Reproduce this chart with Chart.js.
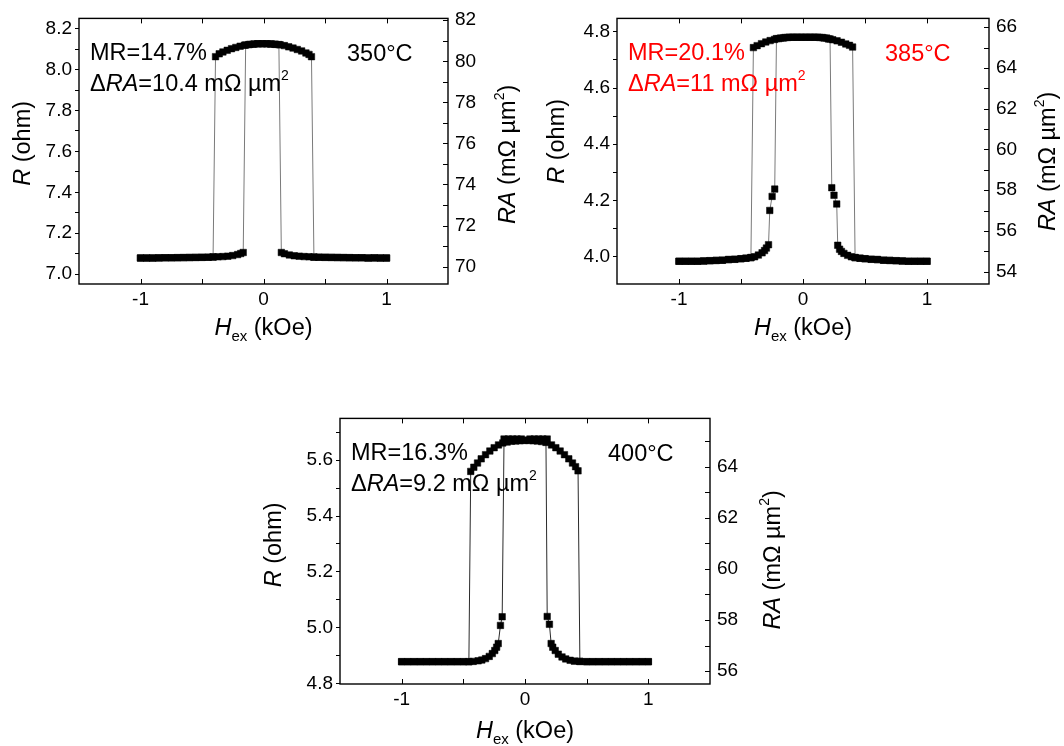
<!DOCTYPE html>
<html><head><meta charset="utf-8">
<script src="https://cdn.jsdelivr.net/npm/chart.js@4/dist/chart.umd.min.js"></script>
<style>
html,body{margin:0;padding:0;background:#fff;width:1064px;height:746px;overflow:hidden;}
canvas{position:absolute;}
</style></head><body>
<canvas id="c1" width="530" height="346" style="left:0px;top:0px"></canvas>
<canvas id="c2" width="534" height="346" style="left:530px;top:0px"></canvas>
<canvas id="c3" width="550" height="346" style="left:250px;top:400px"></canvas>
<script>
// ---------- DATA ----------
// 350 C : field sweep +1 -> -1 (down) and -1 -> +1 (up), H in kOe, R in ohm
const h350Down = [1.00,0.95,0.90,0.85,0.80,0.75,0.70,0.65,0.60,0.55,0.50,0.45,0.41,0.37,0.33,0.29,0.25,0.21,0.17,0.145,
  0.125,0.09,0.055,0.02,-0.015,-0.05,-0.085,-0.12,-0.155,-0.19,-0.225,-0.26,-0.295,-0.33,-0.36,-0.39,
  -0.41,-0.45,-0.50,-0.55,-0.60,-0.65,-0.70,-0.75,-0.80,-0.85,-0.90,-0.95,-1.00];
const r350Down = [7.079,7.079,7.080,7.079,7.080,7.080,7.081,7.081,7.082,7.082,7.083,7.083,7.084,7.085,7.086,7.088,7.090,7.094,7.100,7.106,
  8.122,8.124,8.125,8.126,8.126,8.126,8.124,8.122,8.119,8.114,8.108,8.102,8.094,8.086,8.077,8.063,
  7.084,7.083,7.082,7.082,7.081,7.081,7.080,7.080,7.080,7.079,7.079,7.079,7.079];
const h350Up = [-1.00,-0.95,-0.90,-0.85,-0.80,-0.75,-0.70,-0.65,-0.60,-0.55,-0.50,-0.45,-0.41,-0.37,-0.33,-0.29,-0.25,-0.21,-0.185,-0.165,
  -0.145,-0.11,-0.075,-0.04,-0.005,0.03,0.065,0.10,0.135,0.17,0.205,0.24,0.275,0.31,0.345,0.37,0.39,
  0.41,0.45,0.50,0.55,0.60,0.65,0.70,0.75,0.80,0.85,0.90,0.95,1.00];
const r350Up = [7.079,7.079,7.079,7.080,7.080,7.080,7.081,7.081,7.082,7.082,7.083,7.083,7.084,7.085,7.086,7.088,7.091,7.096,7.101,7.106,
  8.120,8.123,8.125,8.126,8.126,8.126,8.125,8.123,8.121,8.117,8.111,8.105,8.098,8.091,8.081,8.074,8.063,
  7.083,7.083,7.082,7.082,7.081,7.081,7.080,7.080,7.080,7.079,7.079,7.079,7.079];

// 385 C
const h385Down = [1.00,0.95,0.90,0.85,0.80,0.75,0.70,0.65,0.60,0.55,0.50,0.46,0.42,0.39,0.36,0.33,0.31,0.295,0.28,0.272,0.25,0.232,
  0.218,0.19,0.155,0.12,0.085,0.05,0.015,-0.02,-0.055,-0.09,-0.125,-0.16,-0.195,-0.23,-0.265,-0.30,-0.335,-0.37,-0.40,
  -0.42,-0.46,-0.50,-0.55,-0.60,-0.65,-0.70,-0.75,-0.80,-0.85,-0.90,-0.95,-1.00];
const r385Down = [3.983,3.983,3.983,3.983,3.984,3.985,3.986,3.987,3.989,3.990,3.992,3.994,3.996,3.999,4.004,4.011,4.018,4.026,4.040,4.187,4.218,4.245,
  4.775,4.778,4.780,4.781,4.781,4.781,4.781,4.781,4.781,4.781,4.780,4.778,4.776,4.773,4.769,4.764,4.758,4.751,4.744,
  3.996,3.994,3.992,3.990,3.989,3.987,3.986,3.985,3.984,3.983,3.983,3.983,3.983];
const h385Up = [-1.00,-0.95,-0.90,-0.85,-0.80,-0.75,-0.70,-0.65,-0.60,-0.55,-0.50,-0.46,-0.42,-0.39,-0.36,-0.33,-0.31,-0.295,-0.278,-0.268,-0.249,-0.228,
  -0.214,-0.18,-0.145,-0.11,-0.075,-0.04,-0.005,0.03,0.065,0.10,0.135,0.17,0.205,0.24,0.275,0.31,0.345,0.375,0.40,
  0.42,0.46,0.50,0.55,0.60,0.65,0.70,0.75,0.80,0.85,0.90,0.95,1.00];
const r385Up = [3.983,3.983,3.983,3.983,3.984,3.985,3.986,3.987,3.989,3.990,3.992,3.994,3.996,3.999,4.005,4.013,4.021,4.030,4.042,4.164,4.214,4.240,
  4.776,4.778,4.780,4.781,4.781,4.781,4.781,4.781,4.781,4.781,4.780,4.778,4.775,4.772,4.768,4.763,4.757,4.752,4.746,
  3.996,3.994,3.992,3.990,3.989,3.987,3.986,3.985,3.984,3.983,3.983,3.983,3.983];

// 400 C
const h400Down = [1.00,0.95,0.90,0.85,0.80,0.75,0.70,0.65,0.60,0.55,0.50,0.445,0.40,0.366,0.33,0.30,0.27,0.245,0.225,0.212,0.198,0.18,
  0.17,0.135,0.10,0.065,0.03,-0.005,-0.04,-0.075,-0.11,-0.145,-0.18,-0.215,-0.25,-0.285,-0.32,-0.355,-0.385,-0.415,-0.44,
  -0.455,-0.50,-0.55,-0.60,-0.65,-0.70,-0.75,-0.80,-0.85,-0.90,-0.95,-1.00];
const r400Down = [4.878,4.878,4.878,4.878,4.878,4.878,4.878,4.878,4.878,4.878,4.878,4.879,4.880,4.883,4.888,4.895,4.905,4.918,4.930,4.943,5.012,5.040,
  5.664,5.667,5.669,5.670,5.671,5.671,5.670,5.669,5.668,5.665,5.662,5.655,5.645,5.633,5.620,5.605,5.590,5.575,5.560,
  4.878,4.878,4.878,4.878,4.878,4.878,4.878,4.878,4.878,4.878,4.878,4.878];
const h400Up = [-1.00,-0.95,-0.90,-0.85,-0.80,-0.75,-0.70,-0.65,-0.60,-0.55,-0.50,-0.455,-0.42,-0.38,-0.35,-0.32,-0.29,-0.265,-0.245,-0.23,-0.217,-0.199,-0.185,
  -0.17,-0.135,-0.10,-0.065,-0.03,0.005,0.04,0.075,0.11,0.145,0.18,0.215,0.25,0.285,0.32,0.355,0.385,0.41,0.43,
  0.445,0.50,0.55,0.60,0.65,0.70,0.75,0.80,0.85,0.90,0.95,1.00];
const r400Up = [4.878,4.878,4.878,4.878,4.878,4.878,4.878,4.878,4.878,4.878,4.878,4.878,4.879,4.881,4.884,4.889,4.897,4.907,4.918,4.930,4.943,5.008,5.039,
  5.676,5.676,5.676,5.676,5.676,5.672,5.676,5.676,5.676,5.676,5.676,5.655,5.645,5.633,5.620,5.605,5.590,5.577,5.562,
  4.879,4.878,4.878,4.878,4.878,4.878,4.878,4.878,4.878,4.878,4.878,4.878];

// axis ranges
const hRange = [-1.5, 1.5];
const rRange350 = [6.952, 8.250], raRange350 = [69.15, 82.09];
const rRange385 = [3.902, 4.848], raRange385 = [53.40, 66.43];
const rRange400 = [4.798, 5.750], raRange400 = [55.50, 65.88];

// texts
const temps = ['350°C', '385°C', '400°C'];
const mrLabels = ['MR=14.7%', 'MR=20.1%', 'MR=16.3%'];
const draLabels = ['10.4', '11', '9.2'];
const xTitle = ['H', 'ex', ' (kOe)'];
const yTitle = ['R', ' (ohm)'];
const y2Title = ['RA', ' (mΩ µm', '2', ')'];

// ---------- RENDER ----------
const FONT = '"Liberation Sans", Arial, Helvetica, sans-serif';
Chart.defaults.font.family = FONT;
Chart.defaults.color = '#000';

function fontStr(s) { return (s.italic ? 'italic ' : '') + s.size + 'px ' + FONT; }
function richWidth(ctx, segs) { let w = 0; for (const s of segs) { ctx.font = fontStr(s); w += ctx.measureText(s.t).width; } return w; }
function drawRich(ctx, x, y, segs, center, color) {
  let cx = center ? x - richWidth(ctx, segs) / 2 : x;
  ctx.fillStyle = color; ctx.textAlign = 'left'; ctx.textBaseline = 'alphabetic';
  for (const s of segs) { ctx.font = fontStr(s); ctx.fillText(s.t, cx, y + (s.dy || 0)); cx += ctx.measureText(s.t).width; }
}
function drawRotated(ctx, cx, cy, segs, size) {
  ctx.save(); ctx.translate(cx, cy); ctx.rotate(-Math.PI / 2);
  drawRich(ctx, 0, size * 0.36, segs, true, '#000');
  ctx.restore();
}

const panels = [
  { id: 'c1', hD: h350Down, rD: r350Down, hU: h350Up, rU: r350Up, rr: rRange350, ra: raRange350,
    yW: 79, y2W: 82, xH: 62, line: '#7a7a7a', col: '#000000',
    lt: [57, 125], rt: [59, 136], xb: 51 },
  { id: 'c2', hD: h385Down, rD: r385Down, hU: h385Up, rU: r385Up, rr: rRange385, ra: raRange385,
    yW: 87, y2W: 75, xH: 62, line: '#7a7a7a', col: '#ff0000',
    lt: [61, 123], rt: [58, 143], xb: 51 },
  { id: 'c3', hD: h400Down, rD: r400Down, hU: h400Up, rU: r400Up, rr: rRange400, ra: raRange400,
    yW: 90, y2W: 90, xH: 62, line: '#2a2a2a', col: '#000000',
    lt: [67, 126.5], rt: [62, 141.5], xb: 54 }
];

function pts(h, r) { return h.map((v, i) => ({ x: v, y: r[i] })); }

function decoPlugin(p, i) {
  return {
    id: 'deco' + i,
    afterDraw(chart) {
      const ctx = chart.ctx, a = chart.chartArea;
      const xs = chart.scales.x, y2 = chart.scales.y2;
      ctx.save();
      ctx.strokeStyle = '#000'; ctx.lineWidth = 1;
      ctx.beginPath();
      for (const t of xs.ticks) {
        if (t.value <= xs.min + 1e-9 || t.value >= xs.max - 1e-9) continue;
        const px = Math.round(xs.getPixelForValue(t.value)) + 0.5;
        ctx.moveTo(px, a.bottom); ctx.lineTo(px, a.bottom - 5);
        ctx.moveTo(px, a.top); ctx.lineTo(px, a.top + 5);
      }
      for (const t of y2.ticks) {
        const py = Math.round(y2.getPixelForValue(t.value)) + 0.5;
        ctx.moveTo(a.right, py); ctx.lineTo(a.right - 5, py);
      }
      ctx.stroke();
      ctx.lineWidth = 1.4;
      ctx.strokeRect(a.left, a.top, a.right - a.left, a.bottom - a.top);

      // annotations
      const S = 23.5;
      drawRich(ctx, a.left + 11, a.top + 42, [{ t: mrLabels[i], size: S }], false, p.col);
      drawRich(ctx, a.left + 11, a.top + 73, [
        { t: 'Δ', size: S }, { t: 'RA', size: S, italic: true },
        { t: '=' + draLabels[i] + ' mΩ µm', size: S }, { t: '2', size: 14, dy: -11 }], false, p.col);
      drawRich(ctx, a.left + 268, a.top + 43, [{ t: temps[i], size: S }], false, p.col);

      // axis titles
      const T = 23.5;
      drawRich(ctx, (a.left + a.right) / 2, a.bottom + p.xb, [
        { t: xTitle[0], size: T, italic: true }, { t: xTitle[1], size: 15, dy: 6 }, { t: xTitle[2], size: T }], true, '#000');
      drawRotated(ctx, a.left - p.lt[0], a.top + p.lt[1], [
        { t: yTitle[0], size: T, italic: true }, { t: yTitle[1], size: T }], T);
      drawRotated(ctx, a.right + p.rt[0], a.top + p.rt[1], [
        { t: y2Title[0], size: T, italic: true }, { t: y2Title[1], size: T },
        { t: y2Title[2], size: 14, dy: -11 }, { t: y2Title[3], size: T }], T);
      ctx.restore();
    }
  };
}

panels.forEach((p, i) => {
  const lineDs = (h, r) => ({ data: pts(h, r), showLine: true, borderColor: p.line, borderWidth: 1,
    pointRadius: 0, order: 2, yAxisID: 'y', tension: 0 });
  const ptDs = (h, r) => ({ data: pts(h, r), showLine: false, pointStyle: 'rect', pointRadius: 4.6,
    pointBackgroundColor: '#000', pointBorderColor: '#000', pointBorderWidth: 0.5, order: 1, yAxisID: 'y' });
  new Chart(document.getElementById(p.id), {
    type: 'scatter',
    data: { datasets: [lineDs(p.hD, p.rD), lineDs(p.hU, p.rU), ptDs(p.hD, p.rD), ptDs(p.hU, p.rU)] },
    options: {
      responsive: false, animation: false, devicePixelRatio: 1, events: [],
      layout: { padding: { top: 14, left: 0, right: 0, bottom: 0 } },
      plugins: { legend: { display: false }, tooltip: { enabled: false } },
      scales: {
        x: {
          type: 'linear', position: 'bottom', min: hRange[0], max: hRange[1],
          ticks: { stepSize: 0.5, autoSkip: false, maxRotation: 0, padding: 4, font: { size: 19 }, color: '#000',
            callback: v => (Math.abs(v - Math.round(v)) < 1e-6 && Math.abs(v) < 1.4) ? String(Math.round(v)) : '' },
          grid: { display: true, drawOnChartArea: false, drawTicks: false },
          border: { display: false },
          afterFit: s => { s.height = p.xH; }
        },
        y: {
          type: 'linear', position: 'left', min: p.rr[0], max: p.rr[1],
          ticks: { stepSize: 0.1, includeBounds: false, autoSkip: false, padding: 3, font: { size: 19 }, color: '#000',
            callback: v => { const k = Math.round(v * 10); return k % 2 === 0 ? (k / 10).toFixed(1) : ''; } },
          grid: { display: true, drawOnChartArea: false, drawTicks: true, tickLength: 4, color: '#000', lineWidth: 1 },
          border: { display: false },
          afterFit: s => { s.width = p.yW; }
        },
        y2: {
          type: 'linear', position: 'right', min: p.ra[0], max: p.ra[1],
          ticks: { stepSize: 1, includeBounds: false, autoSkip: false, padding: 7, font: { size: 19 }, color: '#000',
            callback: v => { const k = Math.round(v); return k % 2 === 0 ? String(k) : ''; } },
          grid: { display: true, drawOnChartArea: false, drawTicks: false },
          border: { display: false },
          afterFit: s => { s.width = p.y2W; }
        }
      }
    },
    plugins: [decoPlugin(p, i)]
  });
});
</script>
</body></html>
